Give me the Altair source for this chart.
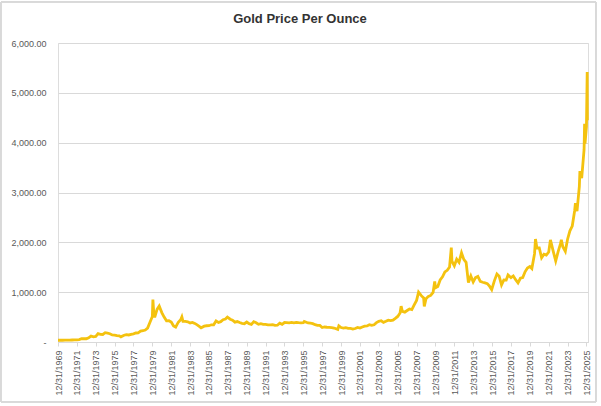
import altair as alt
import pandas as pd

dates = [
    "1969-12-31", "1970-03-31", "1970-06-30", "1970-09-30", "1970-12-31",
    "1971-03-31", "1971-06-30", "1971-09-30", "1971-12-31",
    "1972-03-31", "1972-06-30", "1972-09-30", "1972-12-31",
    "1973-03-31", "1973-06-30", "1973-09-30", "1973-12-31",
    "1974-03-31", "1974-06-30", "1974-09-30", "1974-12-31",
    "1975-03-31", "1975-06-30", "1975-09-30", "1975-12-31",
    "1976-03-31", "1976-06-30", "1976-08-31", "1976-12-31",
    "1977-03-31", "1977-06-30", "1977-09-30", "1977-12-31",
    "1978-03-31", "1978-06-30", "1978-09-30", "1978-12-31",
    "1979-03-31", "1979-06-30", "1979-09-30", "1979-12-31",
    "1980-01-21", "1980-02-15", "1980-03-31", "1980-06-30", "1980-09-22", "1980-12-31",
    "1981-03-31", "1981-06-30", "1981-09-30", "1981-12-31",
    "1982-03-31", "1982-06-21", "1982-09-30", "1982-12-31",
    "1983-02-15", "1983-03-31", "1983-06-30", "1983-09-30", "1983-12-31",
    "1984-03-31", "1984-06-30", "1984-09-30", "1984-12-31",
    "1985-02-28", "1985-06-30", "1985-09-30", "1985-12-31",
    "1986-03-31", "1986-06-30", "1986-09-30", "1986-12-31",
    "1987-03-31", "1987-06-30", "1987-09-30", "1987-12-14",
    "1988-03-31", "1988-06-30", "1988-09-30", "1988-12-31",
    "1989-03-31", "1989-06-30", "1989-09-30", "1989-12-31",
    "1990-03-31", "1990-06-30", "1990-09-30", "1990-12-31",
    "1991-03-31", "1991-06-30", "1991-09-30", "1991-12-31",
    "1992-03-31", "1992-06-30", "1992-09-30", "1992-12-31",
    "1993-03-31", "1993-06-30", "1993-09-30", "1993-12-31",
    "1994-03-31", "1994-06-30", "1994-09-30", "1994-12-31",
    "1995-03-31", "1995-06-30", "1995-09-30", "1995-12-31",
    "1996-02-05", "1996-06-30", "1996-09-30", "1996-12-31",
    "1997-03-31", "1997-06-30", "1997-09-30", "1997-12-31",
    "1998-03-31", "1998-06-30", "1998-09-30", "1998-12-31",
    "1999-03-31", "1999-08-25", "1999-10-05", "1999-12-31",
    "2000-03-31", "2000-06-30", "2000-09-30", "2000-12-31",
    "2001-03-31", "2001-06-30", "2001-09-30", "2001-12-31",
    "2002-03-31", "2002-06-30", "2002-09-30", "2002-12-31",
    "2003-03-31", "2003-06-30", "2003-09-30", "2003-12-31",
    "2004-03-31", "2004-06-30", "2004-09-30", "2004-12-31",
    "2005-03-31", "2005-06-30", "2005-09-30", "2005-12-31",
    "2006-03-31", "2006-05-12", "2006-06-30", "2006-09-30", "2006-12-31",
    "2007-03-31", "2007-06-30", "2007-09-30", "2007-12-31",
    "2008-03-17", "2008-06-30", "2008-09-30", "2008-10-24", "2008-12-31",
    "2009-03-31", "2009-06-30", "2009-09-30", "2009-12-02", "2009-12-31",
    "2010-03-31", "2010-06-30", "2010-09-30", "2010-12-31",
    "2011-03-31", "2011-06-30", "2011-09-05", "2011-09-30", "2011-12-31",
    "2012-03-31", "2012-06-30", "2012-10-04", "2012-12-31",
    "2013-03-31", "2013-06-28", "2013-09-30", "2013-12-31",
    "2014-03-31", "2014-06-30", "2014-09-30", "2014-12-31",
    "2015-03-31", "2015-06-30", "2015-09-30", "2015-12-17",
    "2016-03-31", "2016-07-06", "2016-09-30", "2016-12-31",
    "2017-03-31", "2017-06-30", "2017-09-08", "2017-12-31",
    "2018-03-31", "2018-06-30", "2018-09-30", "2018-12-31",
    "2019-03-31", "2019-06-30", "2019-09-30", "2019-12-31",
    "2020-03-19", "2020-06-30", "2020-08-06", "2020-09-30", "2020-12-31",
    "2021-03-31", "2021-06-30", "2021-09-30", "2021-12-31",
    "2022-03-08", "2022-06-30", "2022-09-28", "2022-12-31",
    "2023-03-31", "2023-05-04", "2023-06-30", "2023-10-05", "2023-12-31",
    "2024-03-31", "2024-06-30", "2024-09-30", "2024-10-30", "2024-12-31",
    "2025-03-31", "2025-04-22", "2025-06-30", "2025-09-30", "2025-10-20",
    "2025-11-05", "2025-12-31", "2026-01-29", "2026-02-05",
]

prices = [
    35.2, 35.6, 35.4, 36.2, 37.4,
    38.9, 40.1, 42.0, 43.6,
    48.3, 65.1, 65.5, 64.9,
    84, 120, 103, 112,
    168, 154, 151, 186,
    177, 166, 142, 140,
    129, 124, 104, 135,
    149, 141, 154, 165,
    181, 183, 217, 226,
    241, 279, 397, 512,
    850, 650, 494, 653, 720, 590,
    500, 425, 428, 400,
    320, 297, 397, 448,
    505, 414, 414, 405, 382,
    394, 373, 343, 309,
    285, 317, 326, 327,
    345, 345, 423, 391,
    408, 447, 460, 500,
    457, 437, 398, 410,
    390, 373, 367, 401,
    368, 352, 408, 386,
    355, 368, 354, 353,
    344, 343, 349, 333,
    337, 378, 355, 391,
    389, 385, 394, 383,
    392, 387, 384, 387,
    414, 382, 379, 369,
    348, 334, 332, 290,
    301, 296, 293, 288,
    280, 253, 325, 290,
    278, 288, 273, 273,
    258, 270, 293, 279,
    302, 318, 323, 347,
    334, 346, 388, 416,
    427, 395, 415, 438,
    428, 437, 473, 513,
    582, 720, 613, 599, 632,
    662, 650, 743, 834,
    1000, 930, 885, 712, 869,
    916, 934, 996, 1215, 1088,
    1113, 1244, 1307, 1405,
    1439, 1506, 1895, 1620, 1531,
    1662, 1598, 1790, 1657,
    1598, 1192, 1326, 1204,
    1291, 1315, 1216, 1199,
    1187, 1172, 1115, 1050,
    1232, 1366, 1322, 1146,
    1245, 1242, 1346, 1291,
    1325, 1250, 1187, 1279,
    1292, 1409, 1485, 1515,
    1474, 1768, 2067, 1886, 1888,
    1691, 1763, 1743, 1806,
    2050, 1807, 1628, 1812,
    1969, 2050, 1912, 1820, 2062,
    2230, 2327, 2634, 2787, 2624,
    3124, 3430, 3287, 3859, 4380,
    3980, 4320, 5420, 4450,
]

tick_years = list(range(1969, 2026, 2))
y_ticks = [0, 1000, 2000, 3000, 4000, 5000, 6000]

df = pd.DataFrame({"date": dates, "price": prices})

FONT = "Liberation Sans"
LABEL = "#595959"
GRID = "#d9d9d9"

line = alt.Chart(df).mark_line(color="#F4C20F", strokeWidth=2.8).encode(
    x=alt.X(
        "date:T",
        scale=alt.Scale(
            type="utc",
            domain=[alt.DateTime(year=1969, month=12, date=31, utc=True),
                    alt.DateTime(year=2026, month=3, date=1, utc=True)],
        ),
        axis=alt.Axis(
            title=None,
            values=[alt.DateTime(year=y, month=12, date=31, utc=True) for y in tick_years],
            labelExpr="utcFormat(datum.value, '%m/%d/%Y')",
            labelAngle=-90,
            labelFontSize=9,
            labelColor=LABEL,
            labelFont=FONT,
            labelPadding=4,
            labelOverlap=False,
            labelBound=False,
            grid=False,
            domainColor=GRID,
            tickColor=GRID,
            tickSize=4,
        ),
    ),
    y=alt.Y(
        "price:Q",
        scale=alt.Scale(domain=[0, 6000], nice=False),
        axis=alt.Axis(
            title=None,
            values=y_ticks,
            labelExpr="datum.value == 0 ? '-' : format(datum.value, ',.2f')",
            labelFontSize=9,
            labelColor=LABEL,
            labelFont=FONT,
            labelPadding=12,
            domain=False,
            ticks=False,
            gridColor=GRID,
            gridWidth=1,
        ),
    ),
)

border = alt.Chart(df).mark_rect(
    fill=None, stroke=GRID, strokeWidth=1, clip=False
).encode(
    x=alt.value(-57), x2=alt.value(538),
    y=alt.value(-41), y2=alt.value(359),
)

chart = alt.layer(border, line).properties(
    width=530,
    height=299,
    autosize=alt.AutoSizeParams(type="none"),
    padding={"left": 58, "top": 43, "right": 13, "bottom": 64},
    title=alt.TitleParams(
        "Gold Price Per Ounce",
        fontSize=13,
        fontWeight="bold",
        font=FONT,
        color="#333333",
        anchor="middle",
        dx=-23,
        baseline="bottom",
        offset=0,
        dy=37,
    ),
).configure_view(stroke=None).configure(background="white")

chart.save("out.html", embed_options={"renderer": "svg", "actions": False})
